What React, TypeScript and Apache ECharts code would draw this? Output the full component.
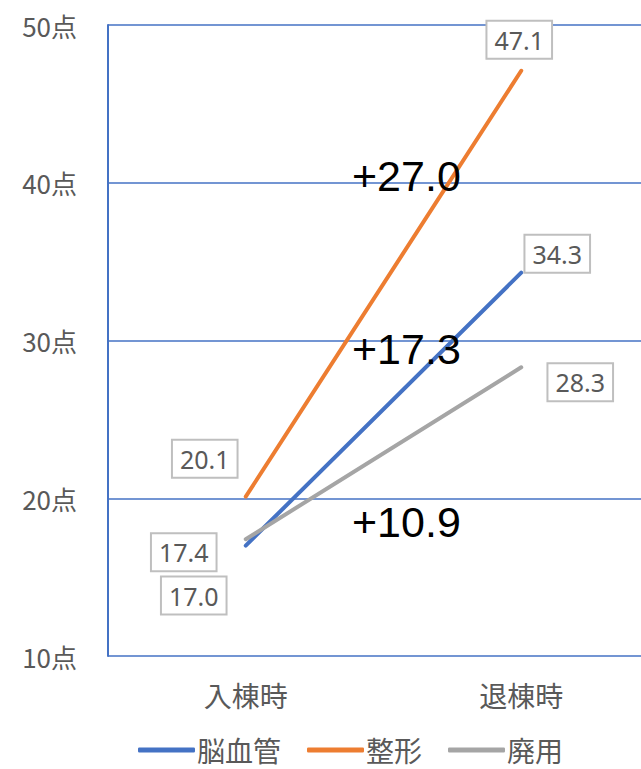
import React, { useEffect, useRef } from "react";
import * as echarts from "echarts";

const categories = ["入棟時", "退棟時"];
const seriesNames = ["脳血管", "整形", "廃用"];
const cerebro = [17.0, 34.3];
const ortho = [20.1, 47.1];
const disuse = [17.4, 28.3];
const yTicks = [10, 20, 30, 40, 50];
const diffLabels = ["+27.0", "+17.3", "+10.9"];

const FONT = "'Noto Sans CJK JP', 'Noto Sans', sans-serif";
const BIG_FONT = "'Liberation Sans', Arial, sans-serif";
const BLUE = "#4472C4";
const ORANGE = "#ED7D31";
const GRAY = "#A5A5A5";

function boxLabel(offset: number[]) {
  return {
    show: true,
    position: "inside",
    offset,
    formatter: (p: any) => Number(p.value).toFixed(1),
    color: "#595959",
    fontSize: 25,
    fontFamily: "'Noto Sans', sans-serif",
    lineHeight: 30,
    backgroundColor: "#fff",
    borderColor: "#BFBFBF",
    borderWidth: 2,
    padding: [3, 7, 3, 7],
  };
}

function makeSeries(name: string, values: number[], color: string, offsets: number[][]) {
  return {
    name,
    type: "line",
    data: values.map((v, i) => ({ value: v, label: boxLabel(offsets[i]) })),
    symbol: "circle",
    symbolSize: 1,
    itemStyle: { color },
    lineStyle: { color, width: 4, cap: "round" },
    z: 3,
  };
}

export default function App() {
  const ref = useRef<HTMLDivElement>(null);
  useEffect(() => {
    const chart = echarts.init(ref.current!, undefined, { renderer: "svg" });
    chart.setOption({
      animation: false,
      backgroundColor: "#fff",
      grid: { left: 108, top: 25, width: 551, height: 631, containLabel: false },
      xAxis: {
        type: "category",
        data: categories,
        boundaryGap: true,
        axisLine: { show: false },
        axisTick: { show: false },
        axisLabel: { color: "#595959", fontSize: 28, fontFamily: FONT, margin: 25 },
      },
      yAxis: {
        type: "value",
        min: yTicks[0],
        max: yTicks[yTicks.length - 1],
        interval: 10,
        axisLine: { show: true, lineStyle: { color: BLUE, width: 2 } },
        axisTick: { show: false },
        axisLabel: {
          formatter: "{value}点",
          color: "#595959",
          fontSize: 26,
          fontFamily: FONT,
          margin: 31,
        },
        splitLine: { lineStyle: { color: BLUE, width: 1.5 } },
      },
      legend: {
        data: seriesNames,
        top: 730,
        left: 133,
        icon: "roundRect",
        itemWidth: 57,
        itemHeight: 5,
        itemGap: 26,
        textStyle: { color: "#595959", fontSize: 28, lineHeight: 30, fontFamily: FONT, padding: [0, 0, 0, -3] },
      },
      series: [
        makeSeries(seriesNames[0], cerebro, BLUE, [[-52, 50], [36, -19]]),
        makeSeries(seriesNames[1], ortho, ORANGE, [[-41, -38], [-2, -31]]),
        makeSeries(seriesNames[2], disuse, GRAY, [[-62, 13], [59, 15]]),
      ],
      graphic: [
        { type: "text", x: 352, y: 176, style: { text: diffLabels[0], fontSize: 43, fontFamily: BIG_FONT, fill: "#000", verticalAlign: "middle" }, z: 10 },
        { type: "text", x: 352, y: 349, style: { text: diffLabels[1], fontSize: 43, fontFamily: BIG_FONT, fill: "#000", verticalAlign: "middle" }, z: 10 },
        { type: "text", x: 352, y: 522, style: { text: diffLabels[2], fontSize: 43, fontFamily: BIG_FONT, fill: "#000", verticalAlign: "middle" }, z: 10 },
      ],
    });
    return () => chart.dispose();
  }, []);
  return (
    <div style={{ position: "fixed", left: 0, top: 0, width: 641, height: 769, overflow: "hidden", background: "#fff" }}>
      <div ref={ref} style={{ width: 660, height: 769 }} />
    </div>
  );
}
